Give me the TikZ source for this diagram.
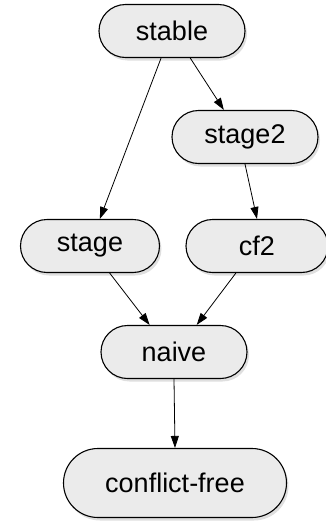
\documentclass[tikz,border=0pt]{standalone}
\usepackage{fontspec}
\setmainfont{Liberation Sans}
\usetikzlibrary{shapes.misc,shadows,arrows.meta}
\definecolor{boxgray}{RGB}{235,235,235}

\begin{document}
\begin{tikzpicture}[x=1pt,y=-1pt,
    sem/.style={rounded rectangle,draw,line width=1.1pt,fill=boxgray,
      minimum height=53pt,inner sep=0pt,font=\fontsize{27}{32}\selectfont,
      drop shadow={shadow xshift=2pt,shadow yshift=-3pt,opacity=0.25}},
    >={Triangle[length=12pt,width=8pt]}]
  \useasboundingbox (0,0) rectangle (325,525);
  \node[sem,minimum width=146pt] (stable) at (172,31) {stable};
  \node[sem,minimum width=146pt] (stage2) at (245,137) {stage2};
  \node[sem,minimum width=139pt] (stage) at (90,246) {stage};
  \node[sem,minimum width=142pt] (cf2) at (257,246) {cf2};
  \node[sem,minimum width=146pt] (naive) at (174,352) {naive};
  \node[sem,minimum width=223pt,minimum height=69pt] (cfree) at (175,483) {conflict-free};
  \draw[->,line width=0.8pt] (stable.248) -- (stage.70);
  \draw[->,line width=0.8pt] (stable.304) -- (stage2.128);
  \draw[->,line width=0.8pt] (stage2.south) -- (cf2.north);
  \draw[->,line width=0.8pt] (stage.306) -- (naive.132);
  \draw[->,line width=0.8pt] (cf2.232) -- (naive.50);
  \draw[->,line width=0.8pt] (naive.south) -- (cfree.north);
\end{tikzpicture}
\end{document}
